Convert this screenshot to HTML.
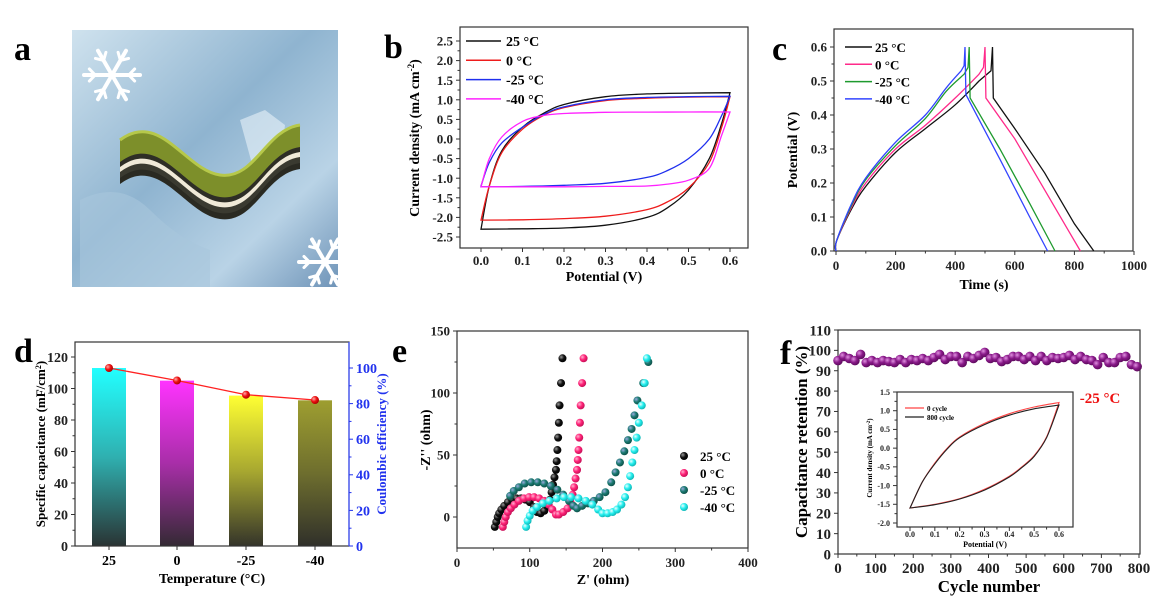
<!DOCTYPE html>
<html><head><meta charset="utf-8"><style>
html,body{margin:0;padding:0;background:#fff;width:1168px;height:614px;overflow:hidden}
svg{display:block;font-family:"Liberation Serif",serif;font-weight:bold}
</style></head><body>
<svg id="fig" width="1168" height="614" viewBox="0 0 1168 614" xmlns="http://www.w3.org/2000/svg">
<defs>
<linearGradient id="iceBg" x1="0" y1="0" x2="1" y2="1"><stop offset="0" stop-color="#cfe2ee"/><stop offset="0.45" stop-color="#8fb4d0"/><stop offset="0.75" stop-color="#b9d3e6"/><stop offset="1" stop-color="#6f94b8"/></linearGradient>
<linearGradient id="gCyan" x1="0" y1="0" x2="0" y2="1"><stop offset="0" stop-color="#22ffff"/><stop offset="0.5" stop-color="#2fb0b0"/><stop offset="1" stop-color="#2a3434"/></linearGradient>
<linearGradient id="gMag" x1="0" y1="0" x2="0" y2="1"><stop offset="0" stop-color="#ff33ff"/><stop offset="0.5" stop-color="#a82ea8"/><stop offset="1" stop-color="#342a34"/></linearGradient>
<linearGradient id="gYel" x1="0" y1="0" x2="0" y2="1"><stop offset="0" stop-color="#ffff33"/><stop offset="0.5" stop-color="#a8a830"/><stop offset="1" stop-color="#34342a"/></linearGradient>
<linearGradient id="gOli" x1="0" y1="0" x2="0" y2="1"><stop offset="0" stop-color="#9e9e30"/><stop offset="0.5" stop-color="#6e6e2e"/><stop offset="1" stop-color="#30302a"/></linearGradient>
<radialGradient id="sBlack" cx="0.35" cy="0.35" r="0.7"><stop offset="0" stop-color="#999"/><stop offset="0.5" stop-color="#111"/><stop offset="1" stop-color="#000"/></radialGradient>
<radialGradient id="sPink" cx="0.35" cy="0.35" r="0.7"><stop offset="0" stop-color="#ffb0d0"/><stop offset="0.5" stop-color="#ff2277"/><stop offset="1" stop-color="#c01055"/></radialGradient>
<radialGradient id="sTeal" cx="0.35" cy="0.35" r="0.7"><stop offset="0" stop-color="#9ad"/><stop offset="0.5" stop-color="#1a7a70"/><stop offset="1" stop-color="#0d4d46"/></radialGradient>
<radialGradient id="sCyan" cx="0.35" cy="0.35" r="0.7"><stop offset="0" stop-color="#eaffff"/><stop offset="0.5" stop-color="#22eeee"/><stop offset="1" stop-color="#10b0b0"/></radialGradient>
<radialGradient id="sPurp" cx="0.35" cy="0.35" r="0.7"><stop offset="0" stop-color="#e090e0"/><stop offset="0.5" stop-color="#8a1a8a"/><stop offset="1" stop-color="#5a0a5a"/></radialGradient>
<radialGradient id="sRed" cx="0.35" cy="0.35" r="0.7"><stop offset="0" stop-color="#ffaaaa"/><stop offset="0.5" stop-color="#ee1111"/><stop offset="1" stop-color="#aa0000"/></radialGradient>
</defs>
</svg>
<script>
// ---------- DATA ----------
const cvUpV=[0,0.02,0.05,0.1,0.15,0.2,0.3,0.4,0.5,0.6];
const cvLowV=[0.6,0.58,0.55,0.5,0.45,0.4,0.3,0.2,0.1,0];
const cvUp25=[-2.3,-1.2,-0.3,0.3,0.65,0.88,1.08,1.15,1.17,1.18];
const cvLow25=[1.18,0.4,-0.5,-1.3,-1.75,-2.0,-2.2,-2.27,-2.29,-2.3];
const cvUp0=[-2.07,-1.2,-0.35,0.25,0.6,0.8,0.98,1.04,1.07,1.08];
const cvLow0=[1.08,0.3,-0.6,-1.25,-1.6,-1.8,-1.97,-2.03,-2.06,-2.07];
const cvUpM25=[-1.2,-0.6,-0.1,0.3,0.62,0.82,1.0,1.06,1.08,1.09];
const cvLowM25=[1.09,0.6,0.0,-0.5,-0.8,-0.98,-1.13,-1.18,-1.21,-1.22];
const cvUpM40=[-1.22,-0.5,0.05,0.45,0.6,0.65,0.68,0.685,0.69,0.69];
const cvLowM40=[0.69,0.1,-0.75,-1.05,-1.15,-1.2,-1.21,-1.22,-1.22,-1.22];
const cvLabels=['25 °C','0 °C','-25 °C','-40 °C'];
const gcdT25=[0,2,50,100,200,300,400,480,520,525,528,600,700,800,865];
const gcdV25=[0,0.03,0.12,0.19,0.29,0.36,0.43,0.5,0.53,0.6,0.45,0.36,0.23,0.08,0];
const gcdT0=[0,2,50,100,200,300,400,480,495,500,503,600,700,780,820];
const gcdV0=[0,0.03,0.125,0.2,0.3,0.37,0.45,0.52,0.54,0.6,0.45,0.33,0.18,0.06,0];
const gcdTM25=[0,2,50,100,200,300,370,430,443,447,450,550,650,735];
const gcdVM25=[0,0.03,0.13,0.21,0.31,0.39,0.47,0.52,0.54,0.6,0.45,0.3,0.14,0];
const gcdTM40=[0,2,50,100,200,300,370,420,430,433,436,550,650,710];
const gcdVM40=[0,0.03,0.135,0.215,0.32,0.4,0.48,0.53,0.545,0.6,0.46,0.27,0.1,0];
const tempCats=['25','0','-25','-40'];
const specCap=[113,105,95.5,92.5];
const coulEff=[100,93,85,82];
const eisRe25=[52,54,56,58,61,65,70,76,82,88,94,100,106,110,115,120,124,128,130,132,134,136,137,138,139,140,141,143,145];
const eisIm25=[-8,-4,0,3,6,9,12,14,15,15,14,12,8,4,3,5,9,14,20,26,32,38,45,54,64,76,90,108,128];
const eisRe0=[63,65,67,70,74,79,85,92,99,106,113,120,126,131,136,140,146,152,156,159,161,163,165,166,167,168,169,170,172,174];
const eisIm0=[-8,-4,0,4,7,10,13,15,16,16,15,13,10,6,2,2,4,7,12,18,24,31,38,46,54,64,76,90,108,128];
const eisReM25=[73,78,85,93,102,111,120,129,138,146,154,160,165,172,180,188,196,204,212,218,224,230,235,240,244,248,256,263];
const eisImM25=[17,21,24,27,28,28,27,25,22,18,13,9,7,9,11,13,16,20,28,36,44,53,62,71,82,94,108,125];
const eisReM40=[95,97,100,104,110,118,127,137,147,157,167,177,186,194,200,207,214,220,226,231,235,238,241,244,247,250,254,258,261];
const eisImM40=[-8,-3,1,5,8,11,13,15,16,16,15,13,10,6,3,3,4,6,10,16,24,33,44,54,64,76,90,108,128];
const cycles=[0,15,30,45,60,75,90,105,120,135,150,165,180,195,210,225,240,255,270,285,300,315,330,345,360,375,390,405,420,435,450,465,480,495,510,525,540,555,570,585,600,615,630,645,660,675,690,705,720,735,750,765,780,795];
const retention=[95,97,96,95,98,94,95,94,95,94.5,94,95.5,94,95.5,95,96,95,96.5,98,95.5,97,97,94,97,96,97.5,99,96,96.5,94.5,95.5,97,97,95.5,97,95,97,95,96.5,96,96.5,97.5,95.5,97,95.5,95,93,96.5,94,94,96.5,97,93,92];
const insUpV=[0,0.05,0.1,0.15,0.2,0.3,0.4,0.5,0.6];
const insLowV=[0.6,0.55,0.5,0.45,0.4,0.3,0.2,0.1,0];
const insUp0=[-1.6,-0.9,-0.4,0.0,0.3,0.66,0.92,1.1,1.22];
const insLow0=[1.22,0.3,-0.2,-0.5,-0.75,-1.1,-1.35,-1.5,-1.6];
const insUp800=[-1.6,-0.9,-0.42,-0.02,0.28,0.63,0.88,1.05,1.15];
const insLow800=[1.15,0.28,-0.22,-0.52,-0.77,-1.12,-1.36,-1.51,-1.6];

// ---------- HELPERS ----------
const NS='http://www.w3.org/2000/svg';
const svg=document.getElementById('fig');
function mk(tag,attrs,parent){const e=document.createElementNS(NS,tag);for(const k in attrs)e.setAttribute(k,attrs[k]);(parent||svg).appendChild(e);return e;}
function txt(x,y,s,attrs,parent){const e=mk('text',Object.assign({x:x,y:y},attrs||{}),parent);e.textContent=s;return e;}
function scale(d0,d1,r0,r1){return v=>r0+(v-d0)*(r1-r0)/(d1-d0);}
function group(name){const g=mk('g',{});return g;}
function frame(g,x0,y0,x1,y1,col){const r=mk('rect',{x:x0,y:y0,width:x1-x0,height:y1-y0,fill:'none',stroke:col||'#333','stroke-width':1.2},g);

}
function xAxis(g,sx,vals,labels,yb,fs,minor,ly){
 vals.forEach((v,i)=>{const x=sx(v);
  const t=mk('line',{x1:x,x2:x,y1:yb,y2:yb+4,stroke:'#333','stroke-width':1},g);
  
  
  const l=txt(x,ly,labels[i],{'font-size':fs,'text-anchor':'middle',fill:'#222'},g);
  
  
  if(minor&&i<vals.length-1){const xm=sx((v+vals[i+1])/2);mk('line',{x1:xm,x2:xm,y1:yb,y2:yb+2.5,stroke:'#333','stroke-width':1},g);}
 });}
function yAxis(g,sy,vals,labels,xb,fs,minor,col,side){
 const dir=side==='right'?1:-1;
 vals.forEach((v,i)=>{const y=sy(v);
  const t=mk('line',{x1:xb,x2:xb+dir*4,y1:y,y2:y,stroke:col||'#333','stroke-width':1},g);
  
  
  const l=txt(xb+dir*7,y+fs*0.35,labels[i],{'font-size':fs,'text-anchor':side==='right'?'start':'end',fill:col||'#222'},g);
  
  
  if(minor&&i<vals.length-1){const ym=sy((v+vals[i+1])/2);mk('line',{x1:xb,x2:xb+dir*2.5,y1:ym,y2:ym,stroke:col||'#333','stroke-width':1},g);}
 });}
function poly(xs,ys,sx,sy){return xs.map((x,i)=>(i?'L':'M')+sx(x).toFixed(1)+','+sy(ys[i]).toFixed(1)).join(' ');}
function smooth(xs,ys,sx,sy,cont){
 const P=xs.map((x,i)=>[sx(x),sy(ys[i])]);
 let d=(cont?'L':'M')+P[0][0].toFixed(1)+','+P[0][1].toFixed(1);
 for(let i=0;i<P.length-1;i++){
  const p0=P[Math.max(0,i-1)],p1=P[i],p2=P[i+1],p3=P[Math.min(P.length-1,i+2)];
  const c1=[p1[0]+(p2[0]-p0[0])/6,p1[1]+(p2[1]-p0[1])/6];
  const c2=[p2[0]-(p3[0]-p1[0])/6,p2[1]-(p3[1]-p1[1])/6];
  d+=' C'+c1[0].toFixed(1)+','+c1[1].toFixed(1)+' '+c2[0].toFixed(1)+','+c2[1].toFixed(1)+' '+p2[0].toFixed(1)+','+p2[1].toFixed(1);
 }
 return d;}
function letter(x,y,s){const l=txt(x,y,s,{'font-size':34,fill:'#000'});}

// ---------- PANEL A ----------
(function(){
 const g=group('panel-a-illustration');
 mk('rect',{x:72,y:30,width:266,height:257,fill:'url(#iceBg)'},g);
 mk('path',{d:'M240,120 l25,-10 l20,15 l-5,40 l-25,10 z',fill:'#e8f2f8',opacity:0.6},g);
 mk('path',{d:'M80,200 q40,-20 70,10 t60,40 l0,37 l-130,0z',fill:'#a9c6dc',opacity:0.6},g);
 function flake(cx,cy,r){for(let k=0;k<6;k++){const a=k*Math.PI/3;const x2=cx+r*Math.cos(a),y2=cy+r*Math.sin(a);
  mk('line',{x1:cx,y1:cy,x2:x2,y2:y2,stroke:'#fff','stroke-width':4,'stroke-linecap':'round'},g);
  const bx=cx+r*0.6*Math.cos(a),by=cy+r*0.6*Math.sin(a);
  mk('line',{x1:bx,y1:by,x2:bx+r*0.3*Math.cos(a+0.8),y2:by+r*0.3*Math.sin(a+0.8),stroke:'#fff','stroke-width':3,'stroke-linecap':'round'},g);
  mk('line',{x1:bx,y1:by,x2:bx+r*0.3*Math.cos(a-0.8),y2:by+r*0.3*Math.sin(a-0.8),stroke:'#fff','stroke-width':3,'stroke-linecap':'round'},g);}}
 flake(112,75,28);flake(325,262,26);
 const layers=[['#2a2a22',22],['#3a3a30',16],['#f0ead8',10],['#2e2e26',5],['#7d8f2a',0]];
 layers.forEach(([c,o])=>{mk('path',{d:`M120,${140+o} C160,${110+o} 185,${170+o} 220,${175+o} C255,${180+o} 265,${130+o} 300,${125+o} L300,${147+o} C265,${152+o} 255,${202+o} 220,${197+o} C185,${192+o} 160,${132+o} 120,${162+o} Z`,fill:c},g);});
 mk('path',{d:'M120,140 C160,110 185,170 220,175 C255,180 265,130 300,125',fill:'none',stroke:'#b6c84a','stroke-width':3},g);
})();
letter(14,60,'a');

// ---------- PANEL B ----------
(function(){
 const g=group('panel-b-cv-chart');
 const sx=scale(0,0.6,481,730), sy=scale(-2.5,2.5,237,41);
 frame(g,460,27,748,248);
 xAxis(g,sx,[0,0.1,0.2,0.3,0.4,0.5,0.6],['0.0','0.1','0.2','0.3','0.4','0.5','0.6'],248,13,true,265);
 yAxis(g,sy,[-2.5,-2,-1.5,-1,-0.5,0,0.5,1,1.5,2,2.5],['-2.5','-2.0','-1.5','-1.0','-0.5','0.0','0.5','1.0','1.5','2.0','2.5'],460,13,true);
 const xt=txt(604,281,'Potential (V)',{'font-size':14,'text-anchor':'middle'},g);
 
 const yt=txt(0,0,'',{'font-size':14,'text-anchor':'middle',transform:'translate(419,138) rotate(-90)'},g);
 yt.innerHTML='Current density (mA cm<tspan baseline-shift="super" font-size="9">-2</tspan>)';
 
 const series=[[cvUp25,cvLow25,'#111'],[cvUp0,cvLow0,'#ee1c1c'],[cvUpM25,cvLowM25,'#1f2fee'],[cvUpM40,cvLowM40,'#ff22ff']];
 series.forEach((s,i)=>{
  const p=mk('path',{d:smooth(cvUpV,s[0],sx,sy,false)+' '+smooth(cvLowV,s[1],sx,sy,true)+' Z',fill:'none',stroke:s[2],'stroke-width':1.3},g);
  
  
  const y=41+i*19.3;
  const ll=mk('line',{x1:466,x2:501,y1:y,y2:y,stroke:s[2],'stroke-width':1.5},g);
  
  const lt=txt(506,y+5,cvLabels[i],{'font-size':14},g);
  
 });
})();
letter(384,58,'b');

// ---------- PANEL C ----------
(function(){
 const g=group('panel-c-gcd-chart');
 const sx=scale(0,1000,836,1134), sy=scale(0,0.6,251,47);
 frame(g,834,29,1133,251);
 xAxis(g,sx,[0,200,400,600,800,1000],['0','200','400','600','800','1000'],251,13,true,270);
 yAxis(g,sy,[0,0.1,0.2,0.3,0.4,0.5,0.6],['0.0','0.1','0.2','0.3','0.4','0.5','0.6'],834,13,true);
 const xt=txt(984,289,'Time (s)',{'font-size':14,'text-anchor':'middle'},g);
 
 const yt=txt(0,0,'Potential (V)',{'font-size':14,'text-anchor':'middle',transform:'translate(797,150) rotate(-90)'},g);
 
 const series=[[gcdT25,gcdV25,'#111'],[gcdT0,gcdV0,'#ff2a8a'],[gcdTM25,gcdVM25,'#1e9a2e'],[gcdTM40,gcdVM40,'#3344ff']];
 series.forEach((s,i)=>{
  // smooth charge part (first 8 pts), straight rest
  const n=8;
  const d=smooth(s[0].slice(0,n),s[1].slice(0,n),sx,sy,false)+' '+poly(s[0].slice(n-1),s[1].slice(n-1),sx,sy).replace('M','L');
  const p=mk('path',{d:d,fill:'none',stroke:s[2],'stroke-width':1.3},g);
  
  
  const y=47+i*17.3;
  const ll=mk('line',{x1:845,x2:872,y1:y,y2:y,stroke:s[2],'stroke-width':1.5},g);
  
  const lt=txt(875,y+5,cvLabels[i],{'font-size':13},g);
  
 });
})();
letter(772,60,'c');

// ---------- PANEL D ----------
(function(){
 const g=group('panel-d-bar-chart');
 const sy=scale(0,120,546,357), sy2=scale(0,100,546,368);
 const xs=[109,177,246,315];
 const grads=['url(#gCyan)','url(#gMag)','url(#gYel)','url(#gOli)'];
 specCap.forEach((v,i)=>{
  const b=mk('rect',{x:xs[i]-17,y:sy(v),width:34,height:sy(0)-sy(v),fill:grads[i]},g);
  
  
 });
 frame(g,75,342,349,546);
 mk('line',{x1:349,x2:349,y1:342,y2:546,stroke:'#4455ff','stroke-width':1.3},g);
 yAxis(g,sy,[0,20,40,60,80,100,120],['0','20','40','60','80','100','120'],75,14,true);
 yAxis(g,sy2,[0,20,40,60,80,100],['0','20','40','60','80','100'],349,14,true,'#2233ee','right');
 tempCats.forEach((c,i)=>{
  const t=mk('line',{x1:xs[i],x2:xs[i],y1:546,y2:550,stroke:'#333'},g);
  
  const l=txt(xs[i],565,c,{'font-size':14,'text-anchor':'middle'},g);
  
 });
 const ce=mk('path',{d:poly(xs,coulEff,v=>v,sy2),fill:'none',stroke:'#ff2222','stroke-width':1.3},g);
 
 coulEff.forEach((v,i)=>{const c=mk('circle',{cx:xs[i],cy:sy2(v),r:4,fill:'url(#sRed)'},g);
  });
 const xt2=txt(212,583,'Temperature (°C)',{'font-size':14,'text-anchor':'middle'},g);
 
 const yt=txt(0,0,'',{'font-size':13,'text-anchor':'middle',transform:'translate(45,444) rotate(-90)'},g);
 yt.innerHTML='Specific capacitance (mF/cm<tspan baseline-shift="super" font-size="8">2</tspan>)';
 
 const yt2=txt(0,0,'Coulombic efficiency (%)',{'font-size':13,'text-anchor':'middle',fill:'#2233ee',transform:'translate(386,444) rotate(-90)'},g);
 
})();
letter(14,362,'d');

// ---------- PANEL E ----------
(function(){
 const g=group('panel-e-nyquist-chart');
 const sx=scale(0,400,457,748), sy=scale(0,150,517,331);
 frame(g,457,331,748,548);
 xAxis(g,sx,[0,100,200,300,400],['0','100','200','300','400'],548,13,true,567);
 yAxis(g,sy,[0,50,100,150],['0','50','100','150'],457,13,true);
 const xt=txt(603,584,"Z' (ohm)",{'font-size':14,'text-anchor':'middle'},g);
 
 const yt=txt(0,0,"-Z'' (ohm)",{'font-size':14,'text-anchor':'middle',transform:'translate(430,440) rotate(-90)'},g);
 
 const series=[[eisRe25,eisIm25,'url(#sBlack)'],[eisRe0,eisIm0,'url(#sPink)'],[eisReM25,eisImM25,'url(#sTeal)'],[eisReM40,eisImM40,'url(#sCyan)']];
 series.forEach((s,i)=>{
  s[0].forEach((x,j)=>{const c=mk('circle',{cx:sx(x),cy:sy(s[1][j]),r:4,fill:s[2]},g);
   
   });
  const y=456+i*17;
  const lc=mk('circle',{cx:684,cy:y,r:4,fill:s[2]},g);
  
  const lt=txt(700,y+5,cvLabels[i],{'font-size':13},g);
  
 });
})();
letter(392,362,'e');

// ---------- PANEL F ----------
(function(){
 const g=group('panel-f-cycling-chart');
 const sx=scale(0,800,838,1139), sy=scale(0,110,554,330);
 frame(g,838,330,1140,554);
 xAxis(g,sx,[0,100,200,300,400,500,600,700,800],['0','100','200','300','400','500','600','700','800'],554,15,true,573);
 yAxis(g,sy,[0,10,20,30,40,50,60,70,80,90,100,110],['0','10','20','30','40','50','60','70','80','90','100','110'],838,15,false);
 const xt=txt(989,592,'Cycle number',{'font-size':17,'text-anchor':'middle'},g);
 
 const yt=txt(0,0,'Capacitance retention (%)',{'font-size':17,'text-anchor':'middle',transform:'translate(807,442) rotate(-90)'},g);
 
 cycles.forEach((c,i)=>{const d=mk('circle',{cx:sx(c),cy:sy(retention[i]),r:4.8,fill:'url(#sPurp)'},g);
  });
 const tl=txt(1100,403,'-25 °C',{'font-size':15,fill:'#ee1111','text-anchor':'middle'},g);
 
 const ig=mk('g',{},g);
 
 const ix=scale(0,0.6,910,1059), iy=scale(-2,1.5,523,392);
 frame(ig,897,392,1073,527);
 xAxis(ig,ix,[0,0.1,0.2,0.3,0.4,0.5,0.6],['0.0','0.1','0.2','0.3','0.4','0.5','0.6'],527,8,true,537);
 yAxis(ig,iy,[-2,-1.5,-1,-0.5,0,0.5,1,1.5],['-2.0','-1.5','-1.0','-0.5','0.0','0.5','1.0','1.5'],897,8,true);
 const ixt=txt(985,547,'Potential (V)',{'font-size':8,'text-anchor':'middle'},ig);
 
 const iyt=txt(0,0,'',{'font-size':7,'text-anchor':'middle',transform:'translate(872,458) rotate(-90)'},ig);
 iyt.innerHTML='Current density (mA cm<tspan baseline-shift="super" font-size="5">-2</tspan>)';
 
 const is=[[insUp0,insLow0,'#ff4444','0 cycle'],[insUp800,insLow800,'#222','800 cycle']];
 is.forEach((s,i)=>{
  const p=mk('path',{d:smooth(insUpV,s[0],ix,iy,false)+' '+smooth(insLowV,s[1],ix,iy,true)+' Z',fill:'none',stroke:s[2],'stroke-width':1.1},ig);
  
  
  const y=408+i*9;
  const ll=mk('line',{x1:905,x2:924,y1:y,y2:y,stroke:s[2],'stroke-width':1.2},ig);
  
  const lt=txt(927,y+3,s[3],{'font-size':7},ig);
  
 });
})();
letter(780,364,'f');
</script>
</body></html>
